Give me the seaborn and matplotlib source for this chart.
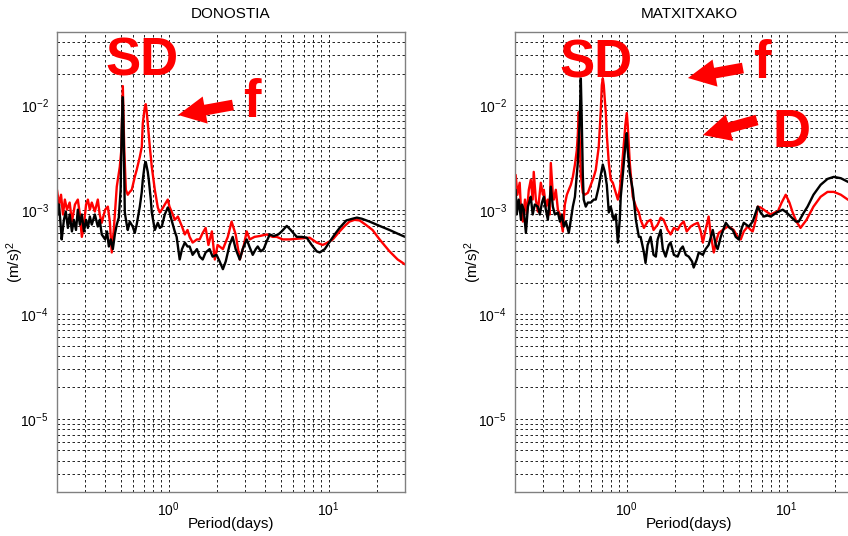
import matplotlib
matplotlib.use("Agg")
import matplotlib.pyplot as plt
import matplotlib.ticker as mticker
import numpy as np
import seaborn as sns
import pandas as pd

# Spectra (period in days, power in (m/s)^2)
# DONOSTIA - red curve
don_red_period = [0.200, 0.206, 0.212, 0.218, 0.224, 0.231, 0.240, 0.248, 0.259, 0.270,
                  0.278, 0.286, 0.295, 0.304, 0.312, 0.321, 0.330, 0.345, 0.360, 0.370,
                  0.381, 0.400, 0.416, 0.428, 0.440, 0.453, 0.473, 0.494, 0.505, 0.516,
                  0.527, 0.539, 0.554, 0.570, 0.587, 0.613, 0.630, 0.659, 0.678, 0.688,
                  0.707, 0.718, 0.728, 0.739, 0.761, 0.783, 0.818, 0.854, 0.879, 0.904,
                  0.944, 0.986, 1.01, 1.06, 1.09, 1.14, 1.21, 1.26, 1.31, 1.35,
                  1.41, 1.50, 1.56, 1.63, 1.70, 1.77, 1.86, 1.94, 2.02, 2.18,
                  2.34, 2.47, 2.62, 2.78, 2.95, 3.07, 3.21, 3.44, 3.70, 4.10,
                  4.46, 4.73, 5.15, 5.70, 6.59, 7.60, 8.41, 9.17, 9.86, 10.6,
                  11.7, 12.6, 13.5, 14.5, 15.6, 17.0, 18.8, 20.8, 24.0, 27.0, 30.0]
don_red = [1.55e-3, 1.12e-3, 1.39e-3, 9.0e-4, 1.25e-3, 1.0e-3, 1.17e-3, 7.7e-4, 1.12e-3, 1.25e-3,
           9.0e-4, 5.5e-4, 7.2e-4, 1.12e-3, 1.25e-3, 1.0e-3, 1.17e-3, 9.6e-4, 1.25e-3, 9.0e-4,
           7.5e-4, 1.0e-3, 1.07e-3, 7.7e-4, 3.9e-4, 6.4e-4, 1.66e-3, 2.57e-3, 3.7e-3, 1.52e-2,
           3.7e-3, 1.55e-3, 1.39e-3, 1.48e-3, 1.55e-3, 2.06e-3, 2.4e-3, 3.2e-3, 4.0e-3, 6.7e-3,
           9.4e-3, 1.02e-2, 8.6e-3, 6.7e-3, 4.0e-3, 2.57e-3, 1.55e-3, 1.05e-3, 9.4e-4, 1.0e-3,
           1.12e-3, 1.25e-3, 1.07e-3, 9.0e-4, 8.0e-4, 8.6e-4, 6.9e-4, 5.8e-4, 6.4e-4, 5.5e-4,
           4.85e-4, 5.2e-4, 5.2e-4, 6.0e-4, 6.7e-4, 4.6e-4, 6.2e-4, 3.34e-4, 4.6e-4, 4.2e-4,
           5.5e-4, 7.7e-4, 5.8e-4, 3.34e-4, 4.6e-4, 6.2e-4, 5.2e-4, 5.5e-4, 5.6e-4, 5.8e-4,
           5.5e-4, 5.5e-4, 5.2e-4, 5.2e-4, 5.3e-4, 5.4e-4, 4.85e-4, 4.6e-4, 4.85e-4, 5.2e-4,
           6.2e-4, 7.0e-4, 7.7e-4, 8.0e-4, 7.9e-4, 7.2e-4, 6.4e-4, 5.2e-4, 4.0e-4, 3.34e-4, 3.0e-4]

# DONOSTIA - black curve
don_black_period = [0.200, 0.203, 0.206, 0.212, 0.214, 0.221, 0.227, 0.234, 0.240, 0.248,
                    0.255, 0.263, 0.270, 0.278, 0.286, 0.295, 0.304, 0.312, 0.321, 0.330,
                    0.345, 0.360, 0.370, 0.381, 0.400, 0.411, 0.422, 0.434, 0.447, 0.460,
                    0.473, 0.487, 0.500, 0.508, 0.516, 0.523, 0.531, 0.546, 0.554, 0.570,
                    0.595, 0.613, 0.630, 0.659, 0.678, 0.688, 0.707, 0.718, 0.739, 0.750,
                    0.772, 0.783, 0.818, 0.854, 0.879, 0.904, 0.944, 0.986, 1.01, 1.04,
                    1.09, 1.12, 1.17, 1.21, 1.26, 1.31, 1.35, 1.41, 1.50, 1.56,
                    1.63, 1.70, 1.80, 1.88, 1.99, 2.08, 2.18, 2.27, 2.40, 2.51,
                    2.62, 2.78, 2.90, 3.07, 3.21, 3.35, 3.50, 3.60, 3.76, 3.92,
                    4.10, 4.28, 4.53, 4.84, 5.08, 5.47, 5.79, 6.31, 6.78, 7.29,
                    7.83, 8.41, 8.79, 9.45, 10.2, 10.9, 11.7, 12.9, 14.1, 15.0,
                    16.1, 18.0, 20.8, 24.0, 27.0, 30.0]
don_black = [1.25e-3, 9.0e-4, 1.12e-3, 6.4e-4, 5.2e-4, 8.0e-4, 9.6e-4, 6.7e-4, 9.0e-4, 6.2e-4,
             8.0e-4, 6.4e-4, 1.0e-3, 7.2e-4, 9.0e-4, 6.2e-4, 8.0e-4, 6.7e-4, 8.6e-4, 7.2e-4,
             9.0e-4, 6.9e-4, 8.0e-4, 5.8e-4, 5.2e-4, 6.2e-4, 4.45e-4, 5.2e-4, 4.2e-4, 5.8e-4,
             7.2e-4, 8.4e-4, 1.55e-3, 5.8e-3, 1.19e-2, 4.6e-3, 9.4e-4, 7.2e-4, 6.4e-4, 7.7e-4,
             6.9e-4, 6.0e-4, 7.2e-4, 1.07e-3, 1.48e-3, 1.93e-3, 2.7e-3, 2.86e-3, 2.3e-3, 1.93e-3,
             1.25e-3, 9.4e-4, 6.4e-4, 7.5e-4, 6.7e-4, 6.9e-4, 9.0e-4, 1.05e-3, 9.6e-4, 8.0e-4,
             6.2e-4, 5.5e-4, 3.34e-4, 4.2e-4, 4.85e-4, 4.45e-4, 4.45e-4, 3.7e-4, 4.2e-4, 3.56e-4,
             3.34e-4, 3.9e-4, 4.2e-4, 3.56e-4, 3.7e-4, 3.2e-4, 2.7e-4, 3.2e-4, 4.6e-4, 5.5e-4,
             4.2e-4, 3.34e-4, 4.2e-4, 5.2e-4, 4.35e-4, 3.7e-4, 4.2e-4, 4.45e-4, 4.0e-4, 4.2e-4,
             5.0e-4, 5.8e-4, 5.6e-4, 5.8e-4, 6.2e-4, 7.0e-4, 6.4e-4, 5.5e-4, 5.5e-4, 5.4e-4,
             4.6e-4, 4.0e-4, 3.9e-4, 4.2e-4, 5.0e-4, 5.8e-4, 6.7e-4, 7.9e-4, 8.2e-4, 8.4e-4,
             8.2e-4, 7.7e-4, 7.0e-4, 6.4e-4, 5.9e-4, 5.5e-4]

# MATXITXAKO - red curve
mat_red_period = [0.202, 0.207, 0.214, 0.218, 0.224, 0.231, 0.237, 0.244, 0.251, 0.258,
                  0.262, 0.270, 0.278, 0.290, 0.299, 0.303, 0.312, 0.321, 0.330, 0.335,
                  0.345, 0.350, 0.360, 0.371, 0.382, 0.387, 0.398, 0.410, 0.422, 0.434,
                  0.447, 0.460, 0.474, 0.487, 0.494, 0.501, 0.508, 0.516, 0.531, 0.546,
                  0.571, 0.596, 0.622, 0.640, 0.668, 0.688, 0.698, 0.708, 0.718, 0.729,
                  0.740, 0.750, 0.772, 0.794, 0.818, 0.854, 0.879, 0.904, 0.930, 0.958,
                  0.979, 1.0, 1.014, 1.044, 1.09, 1.14, 1.19, 1.22, 1.28, 1.35,
                  1.41, 1.47, 1.56, 1.63, 1.70, 1.80, 1.88, 1.97, 2.08, 2.17,
                  2.27, 2.37, 2.51, 2.62, 2.78, 2.90, 2.99, 3.11, 3.25, 3.35,
                  3.50, 3.65, 3.76, 3.98, 4.28, 4.47, 4.66, 4.94, 5.16, 5.39,
                  5.70, 5.96, 6.13, 6.41, 6.59, 6.87, 7.19, 7.60, 7.94, 8.41,
                  8.79, 9.30, 9.86, 10.4, 10.9, 11.5, 12.2, 13.3, 14.7, 16.3,
                  18.0, 19.7, 21.8, 24.1, 27.0, 30.0]
mat_red = [2.15e-3, 1.39e-3, 1.81e-3, 1.0e-3, 7.7e-4, 1.25e-3, 9.0e-4, 1.55e-3, 1.93e-3, 1.25e-3,
           2.3e-3, 1.25e-3, 9.6e-4, 1.81e-3, 1.39e-3, 1.55e-3, 1.07e-3, 1.25e-3, 9.0e-4, 2.8e-3,
           1.39e-3, 1.25e-3, 1.55e-3, 1.0e-3, 9.0e-4, 8.0e-4, 6.2e-4, 1.12e-3, 1.39e-3, 1.55e-3,
           1.73e-3, 2.06e-3, 2.7e-3, 3.7e-3, 5.2e-3, 8.6e-3, 4.6e-3, 2.15e-3, 1.45e-3, 1.39e-3,
           1.45e-3, 1.73e-3, 2.06e-3, 2.4e-3, 4.0e-3, 8.9e-3, 1.55e-2, 1.8e-2, 1.55e-2, 1.12e-2,
           8.4e-3, 5.2e-3, 2.8e-3, 1.93e-3, 1.81e-3, 1.45e-3, 1.25e-3, 1.55e-3, 2.4e-3, 4.2e-3,
           6.4e-3, 8.4e-3, 6.4e-3, 2.8e-3, 1.33e-3, 1.07e-3, 9.4e-4, 8.0e-4, 6.7e-4, 7.7e-4,
           8.0e-4, 6.4e-4, 7.2e-4, 8.4e-4, 8.0e-4, 6.4e-4, 5.8e-4, 6.7e-4, 6.4e-4, 7.2e-4,
           7.7e-4, 6.2e-4, 6.9e-4, 7.2e-4, 7.5e-4, 6.2e-4, 4.85e-4, 6.4e-4, 8.6e-4, 5.8e-4,
           3.9e-4, 5.2e-4, 6.0e-4, 6.4e-4, 6.9e-4, 6.7e-4, 6.4e-4, 5.5e-4, 5.2e-4, 6.2e-4,
           6.9e-4, 6.4e-4, 6.2e-4, 8.0e-4, 1.07e-3, 1.05e-3, 1.0e-3, 9.4e-4, 9.0e-4, 9.4e-4,
           9.6e-4, 1.17e-3, 1.39e-3, 1.17e-3, 9.4e-4, 7.7e-4, 6.7e-4, 8.0e-4, 1.07e-3, 1.33e-3,
           1.48e-3, 1.48e-3, 1.39e-3, 1.25e-3, 1.14e-3, 1.05e-3]

# MATXITXAKO - black curve
mat_black_period = [0.202, 0.205, 0.211, 0.218, 0.221, 0.227, 0.234, 0.241, 0.248, 0.251,
                    0.258, 0.266, 0.278, 0.286, 0.295, 0.303, 0.312, 0.321, 0.330, 0.335,
                    0.345, 0.355, 0.371, 0.382, 0.393, 0.404, 0.416, 0.434, 0.447, 0.460,
                    0.474, 0.480, 0.494, 0.508, 0.516, 0.523, 0.531, 0.538, 0.554, 0.571,
                    0.596, 0.622, 0.640, 0.668, 0.688, 0.708, 0.729, 0.750, 0.772, 0.794,
                    0.829, 0.854, 0.879, 0.904, 0.917, 0.944, 0.958, 0.986, 1.0, 1.014,
                    1.044, 1.09, 1.14, 1.19, 1.22, 1.28, 1.31, 1.35, 1.41, 1.47,
                    1.52, 1.56, 1.63, 1.68, 1.75, 1.83, 1.88, 1.97, 2.08, 2.17,
                    2.24, 2.34, 2.44, 2.56, 2.62, 2.74, 2.82, 2.99, 3.11, 3.25,
                    3.45, 3.60, 3.70, 3.87, 4.16, 4.40, 4.60, 4.80, 5.01, 5.24,
                    5.39, 5.79, 6.13, 6.59, 6.87, 7.19, 7.60, 7.94, 8.66, 9.44,
                    9.99, 10.6, 11.4, 11.9, 12.8, 13.5, 14.7, 16.3, 18.0, 19.7,
                    21.8, 24.1, 27.0, 30.0]
mat_black = [1.55e-3, 9.0e-4, 1.25e-3, 8.0e-4, 1.12e-3, 1.0e-3, 6.0e-4, 1.07e-3, 1.25e-3, 1.33e-3,
             9.0e-4, 1.12e-3, 1.07e-3, 9.0e-4, 1.17e-3, 1.33e-3, 1.0e-3, 8.0e-4, 1.25e-3, 1.66e-3,
             1.07e-3, 9.0e-4, 9.4e-4, 7.7e-4, 9.0e-4, 6.9e-4, 7.7e-4, 6.0e-4, 8.0e-4, 1.07e-3,
             1.33e-3, 1.66e-3, 2.8e-3, 7.2e-3, 1.8e-2, 7.2e-3, 2.15e-3, 1.25e-3, 1.07e-3, 1.17e-3,
             1.17e-3, 1.25e-3, 1.25e-3, 1.66e-3, 2.15e-3, 2.7e-3, 2.3e-3, 1.73e-3, 9.4e-4, 1.07e-3,
             8.0e-4, 9.0e-4, 4.85e-4, 8.0e-4, 1.33e-3, 2.15e-3, 2.8e-3, 4.6e-3, 5.4e-3, 3.7e-3,
             2.25e-3, 1.55e-3, 8.0e-4, 5.5e-4, 5.5e-4, 3.9e-4, 3.1e-4, 4.6e-4, 5.5e-4, 3.7e-4,
             3.56e-4, 5.2e-4, 6.4e-4, 4.2e-4, 3.56e-4, 4.6e-4, 4.85e-4, 3.7e-4, 3.56e-4, 4.2e-4,
             4.45e-4, 3.7e-4, 3.56e-4, 3.2e-4, 2.8e-4, 3.34e-4, 3.9e-4, 3.7e-4, 4.2e-4, 4.6e-4,
             6.4e-4, 4.6e-4, 4.2e-4, 5.5e-4, 7.5e-4, 6.7e-4, 6.4e-4, 5.5e-4, 5.2e-4, 6.7e-4,
             7.5e-4, 6.9e-4, 7.7e-4, 1.07e-3, 9.4e-4, 8.6e-4, 8.8e-4, 8.6e-4, 9.4e-4, 1.0e-3,
             9.4e-4, 8.6e-4, 7.7e-4, 7.7e-4, 9.4e-4, 1.07e-3, 1.39e-3, 1.73e-3, 1.97e-3, 2.06e-3,
             2.0e-3, 1.85e-3, 1.7e-3, 1.55e-3]

stations = ['DONOSTIA', 'MATXITXAKO']

sns.set_style('white')
plt.rcParams['font.family'] = ['Liberation Sans', 'DejaVu Sans']
plt.rcParams['mathtext.fontset'] = 'custom'
plt.rcParams['mathtext.rm'] = 'Liberation Sans'
plt.rcParams['mathtext.it'] = 'Liberation Sans:italic'
plt.rcParams['mathtext.bf'] = 'Liberation Sans:bold'
plt.rcParams['text.color'] = 'black'
plt.rcParams['axes.labelcolor'] = 'black'
plt.rcParams['xtick.labelcolor'] = 'black'
plt.rcParams['ytick.labelcolor'] = 'black'

fig = plt.figure(figsize=(8.48, 5.36), dpi=100)
ax1 = fig.add_axes([0.0672, 0.0821, 0.4104, 0.8582])
ax2 = fig.add_axes([0.6073, 0.0821, 0.4104, 0.8582])

series = [(ax1, don_red_period, don_red, don_black_period, don_black),
          (ax2, mat_red_period, mat_red, mat_black_period, mat_black)]

for (ax, pr, vr, pb, vb), name in zip(series, stations):
    ax.set_xscale('log')
    ax.set_yscale('log')
    df_r = pd.DataFrame({'period': pr, 'power': vr})
    df_b = pd.DataFrame({'period': pb, 'power': vb})
    sns.lineplot(data=df_r, x='period', y='power', ax=ax, color='#ff0000',
                 lw=1.7, estimator=None, sort=False)
    sns.lineplot(data=df_b, x='period', y='power', ax=ax, color='black',
                 lw=1.7, estimator=None, sort=False)
    ax.set_xlim(0.2, 30)
    ax.set_ylim(2e-6, 5e-2)
    ax.xaxis.set_major_locator(mticker.LogLocator(base=10))
    ax.xaxis.set_minor_locator(mticker.LogLocator(base=10, subs=np.arange(2, 10)))
    ax.yaxis.set_major_locator(mticker.LogLocator(base=10))
    ax.yaxis.set_minor_locator(mticker.LogLocator(base=10, subs=np.arange(2, 10)))
    ax.xaxis.set_minor_formatter(mticker.NullFormatter())
    ax.yaxis.set_minor_formatter(mticker.NullFormatter())
    ax.grid(True, which='both', color='black', linestyle=(0, (3, 3)), linewidth=0.6)
    ax.set_axisbelow(True)
    for s in ax.spines.values():
        s.set_color('#808080')
        s.set_linewidth(1.0)
    ax.tick_params(which='both', direction='in', color='#808080', labelsize=10,
                   labelcolor='black')
    ax.tick_params(which='major', length=4, pad=6)
    ax.tick_params(which='minor', length=2)
    ax.set_title(name, fontsize=11, pad=10, color='black')
    ax.set_xlabel('Period(days)', fontsize=11, color='black')
    ax.set_ylabel('(m/s)$^2$', fontsize=11, color='black')
    ax.xaxis.set_label_coords(0.5, -0.054)
    ax.yaxis.set_label_coords(-0.088, 0.5)

# red labels and arrows
big = dict(color='#ff0000', fontsize=38, fontweight='bold', ha='left', va='baseline')
arrow = dict(arrowstyle='simple,head_length=0.9,head_width=0.9,tail_width=0.35',
             color='#ff0000', lw=0, shrinkA=0, shrinkB=0, mutation_scale=22)

ax1.text(0.138, 0.9065, 'SD', transform=ax1.transAxes, **big)
ax1.text(0.5345, 0.815, 'f', transform=ax1.transAxes, **big)
ax1.annotate('', xy=(0.348, 0.8196), xytext=(0.5057, 0.8413),
             xycoords='axes fraction', textcoords='axes fraction', arrowprops=arrow)

ax2.text(0.1264, 0.90, 'SD', transform=ax2.transAxes, **big)
ax2.text(0.684, 0.90, 'f', transform=ax2.transAxes, **big)
ax2.text(0.7385, 0.75, 'D', transform=ax2.transAxes, **big)
ax2.annotate('', xy=(0.497, 0.90), xytext=(0.655, 0.9217),
             xycoords='axes fraction', textcoords='axes fraction', arrowprops=arrow)
ax2.annotate('', xy=(0.540, 0.776), xytext=(0.6954, 0.8087),
             xycoords='axes fraction', textcoords='axes fraction', arrowprops=arrow)

fig.savefig('out.png', dpi=100)
